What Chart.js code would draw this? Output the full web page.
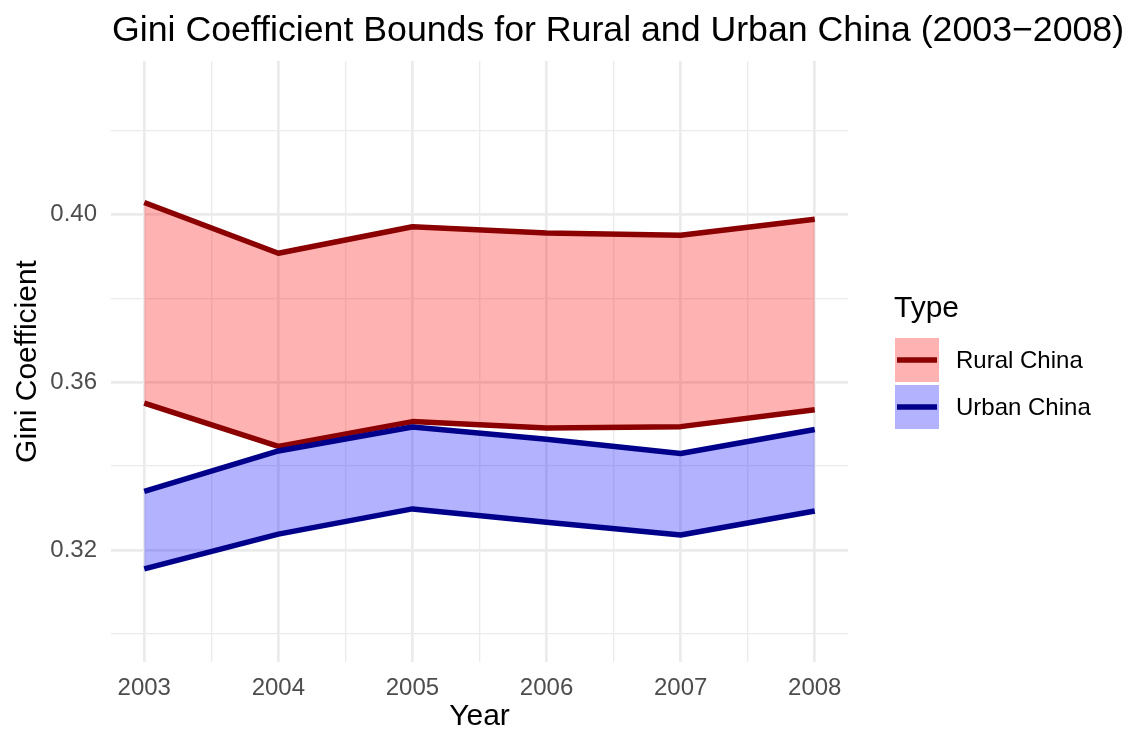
<!DOCTYPE html>
<html>
<head>
<meta charset="utf-8">
<script src="https://cdn.jsdelivr.net/npm/chart.js@4.4.1/dist/chart.umd.min.js"></script>
<style>
  html, body { margin: 0; padding: 0; background: #fff; }
  #wrap { width: 1132px; height: 736px; }
</style>
</head>
<body>
<div id="wrap"><canvas id="giniChart" width="1132" height="736"></canvas></div>
<script>
const years = [2003, 2004, 2005, 2006, 2007, 2008];
const ruralLower = [0.3550, 0.3447, 0.3506, 0.3491, 0.3494, 0.3534];
const ruralUpper = [0.4028, 0.3907, 0.3970, 0.3955, 0.3950, 0.3988];
const urbanLower = [0.3155, 0.3238, 0.3298, 0.3266, 0.3236, 0.3293];
const urbanUpper = [0.3340, 0.3436, 0.3493, 0.3464, 0.3430, 0.3487];

const seriesNames = ['Rural China', 'Urban China'];
const lineColors = ['#8b0000', '#00008b'];
const fillColors = ['rgba(255,0,0,0.3)', 'rgba(0,0,255,0.3)'];

const yTicks = [0.30, 0.32, 0.34, 0.36, 0.38, 0.40, 0.42];
const yMajor = [0.32, 0.36, 0.40];
const xTicks = [2003, 2003.5, 2004, 2004.5, 2005, 2005.5, 2006, 2006.5, 2007, 2007.5, 2008];

const chartTitle = 'Gini Coefficient Bounds for Rural and Urban China (2003\u22122008)';

const FONT = "'Liberation Sans', Arial, Helvetica, sans-serif";
const GRID = '#ebebeb';

function toPoints(vals) {
    return years.map((y, i) => ({ x: y, y: vals[i] }));
}

function isMajorY(v) {
    return yMajor.some(m => Math.abs(m - v) < 1e-6);
}

// title left-aligned to the plot panel, and a ggplot-style legend with ribbon keys
const panelDecor = {
    id: 'panelDecor',
    afterDraw(chart) {
        const ctx = chart.ctx;
        const area = chart.chartArea;
        ctx.save();
        ctx.fillStyle = '#000';
        ctx.textBaseline = 'middle';
        ctx.textAlign = 'left';
        ctx.font = `35.7px ${FONT}`;
        ctx.fillText(chartTitle, area.left + 1, 31);

        const x0 = area.right + 47;
        ctx.font = `30px ${FONT}`;
        ctx.fillText('Type', x0 - 1, 309);
        seriesNames.forEach((name, i) => {
            const top = 338 + i * 47;
            ctx.fillStyle = fillColors[i];
            ctx.fillRect(x0, top, 44, 44);
            ctx.strokeStyle = lineColors[i];
            ctx.lineWidth = 5.5;
            ctx.beginPath();
            ctx.moveTo(x0 + 2, top + 22);
            ctx.lineTo(x0 + 42, top + 22);
            ctx.stroke();
            ctx.fillStyle = '#000';
            ctx.font = `24px ${FONT}`;
            ctx.fillText(name, x0 + 61, top + 23);
        });
        ctx.restore();
    }
};

const ctx = document.getElementById('giniChart').getContext('2d');
const giniChart = new Chart(ctx, {
    type: 'line',
    data: {
        datasets: [
            {
                label: seriesNames[1] + ' lower',
                data: toPoints(urbanLower),
                borderColor: lineColors[1],
                fill: false
            },
            {
                label: seriesNames[1],
                data: toPoints(urbanUpper),
                borderColor: lineColors[1],
                backgroundColor: fillColors[1],
                fill: 0
            },
            {
                label: seriesNames[0] + ' lower',
                data: toPoints(ruralLower),
                borderColor: lineColors[0],
                fill: false
            },
            {
                label: seriesNames[0],
                data: toPoints(ruralUpper),
                borderColor: lineColors[0],
                backgroundColor: fillColors[0],
                fill: 2
            }
        ]
    },
    options: {
        responsive: false,
        animation: false,
        layout: { padding: { left: 0, right: 284, top: 61, bottom: 0 } },
        elements: {
            line: { borderWidth: 5.5, tension: 0, borderCapStyle: 'butt', borderJoinStyle: 'round' },
            point: { radius: 0, hoverRadius: 0 }
        },
        plugins: {
            legend: { display: false },
            tooltip: { enabled: false },
            title: { display: false },
            filler: { drawTime: 'beforeDatasetsDraw' }
        },
        scales: {
            x: {
                type: 'linear',
                min: 2002.752,
                max: 2008.248,
                afterBuildTicks: axis => { axis.ticks = xTicks.map(v => ({ value: v })); },
                afterFit: axis => { axis.height = 74; },
                border: { display: false },
                grid: {
                    color: GRID,
                    drawTicks: false,
                    lineWidth: c => (Number.isInteger(c.tick.value) ? 2.7 : 1.35)
                },
                ticks: {
                    autoSkip: false,
                    maxRotation: 0,
                    padding: 12,
                    color: '#4d4d4d',
                    font: { family: FONT, size: 24 },
                    callback: v => (Number.isInteger(v) ? String(v) : '')
                },
                title: {
                    display: true,
                    text: 'Year',
                    color: '#000',
                    font: { family: FONT, size: 30 },
                    padding: { top: 0, bottom: 1 }
                }
            },
            y: {
                min: 0.29333,
                max: 0.4365,
                afterBuildTicks: axis => { axis.ticks = yTicks.map(v => ({ value: v })); },
                afterFit: axis => { axis.width = 111; },
                border: { display: false },
                grid: {
                    color: GRID,
                    drawTicks: false,
                    lineWidth: c => (isMajorY(c.tick.value) ? 2.7 : 1.35)
                },
                ticks: {
                    padding: 14,
                    color: '#4d4d4d',
                    font: { family: FONT, size: 24 },
                    callback: v => (isMajorY(v) ? v.toFixed(2) : '')
                },
                title: {
                    display: true,
                    text: 'Gini Coefficient',
                    color: '#000',
                    font: { family: FONT, size: 30 },
                    padding: { top: 10, bottom: 0 }
                }
            }
        }
    },
    plugins: [panelDecor]
});
</script>
</body>
</html>
